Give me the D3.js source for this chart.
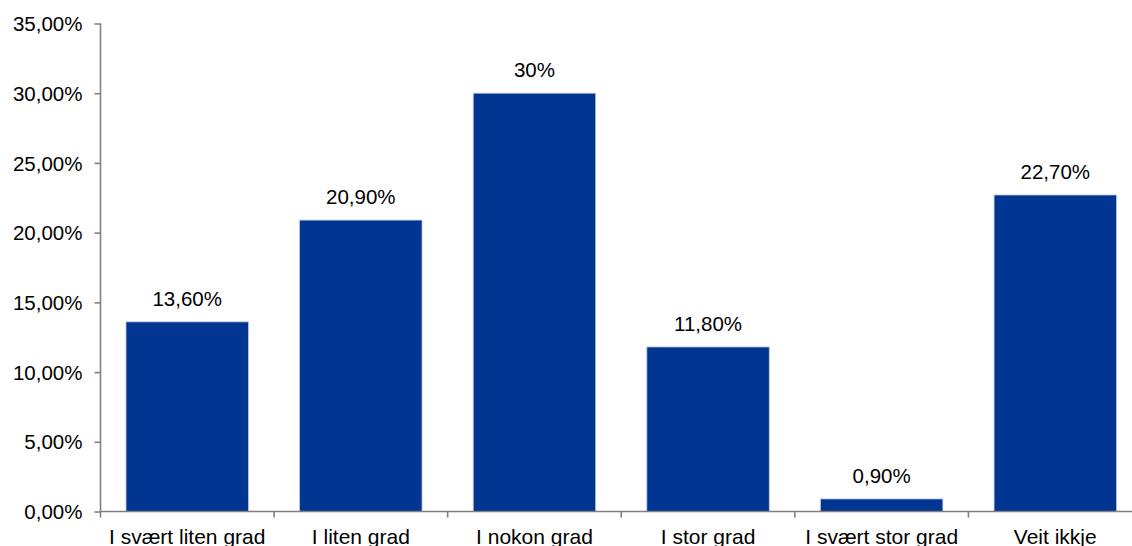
<!DOCTYPE html>
<html>
<head>
<meta charset="UTF-8">
<script src="https://d3js.org/d3.v7.min.js"></script>
<style>
  body { margin: 0; background: #fff; }
  svg text { font-family: "Liberation Sans", Arial, sans-serif; fill: #000; }
</style>
</head>
<body>
<div id="chart"></div>
<script>
// data
var categories = ["I svært liten grad", "I liten grad", "I nokon grad", "I stor grad", "I svært stor grad", "Veit ikkje"];
var values = [13.6, 20.9, 30, 11.8, 0.9, 22.7];
var valueLabels = ["13,60%", "20,90%", "30%", "11,80%", "0,90%", "22,70%"];
var yTicks = [0, 5, 10, 15, 20, 25, 30, 35];

var W = 1132, H = 546;
var mLeft = 100.5, mTop = 23.5, mBottom = 511.5, mRight = 1142;
var fs = "20.5px";

var svg = d3.select("#chart").append("svg")
    .attr("width", W).attr("height", H);

var x = d3.scaleBand()
    .domain(categories)
    .range([mLeft, mRight])
    .paddingInner(0.295)
    .paddingOuter(0.147);

var y = d3.scaleLinear()
    .domain([0, 35])
    .range([mBottom, mTop]);

// bars
svg.selectAll("rect.bar")
    .data(values)
    .enter().append("rect")
    .attr("class", "bar")
    .attr("x", function(d, i) { return x(categories[i]); })
    .attr("y", function(d) { return y(d); })
    .attr("width", x.bandwidth())
    .attr("height", function(d) { return mBottom - y(d); })
    .attr("fill", "#003591")
    .attr("stroke", "#b8c4e0")
    .attr("stroke-width", 0.8);

// value labels
svg.selectAll("text.val")
    .data(values)
    .enter().append("text")
    .attr("class", "val")
    .attr("x", function(d, i) { return x(categories[i]) + x.bandwidth() / 2; })
    .attr("y", function(d) { return y(d) - 16; })
    .attr("text-anchor", "middle")
    .attr("font-size", fs)
    .text(function(d, i) { return valueLabels[i]; });

// y axis
var yAxis = svg.append("g")
    .attr("transform", "translate(" + mLeft + ",0)")
    .call(d3.axisLeft(y).tickValues(yTicks).tickSize(6).tickPadding(12)
        .tickFormat(function(d) { return d3.format(".2f")(d).replace(".", ",") + "%"; }));
yAxis.selectAll("path, line").attr("stroke", "#808080").attr("stroke-width", 1.6);
yAxis.select("path").attr("d", "M0," + mTop + "V" + mBottom);
yAxis.selectAll("text").attr("font-size", fs).attr("dy", "0.35em")
    .style("font-family", "'Liberation Sans', Arial, sans-serif").attr("fill", "#000");

// x axis
var xAxis = svg.append("g")
    .attr("transform", "translate(0," + mBottom + ")")
    .call(d3.axisBottom(x).tickSize(0).tickPadding(18));
xAxis.select("path").attr("stroke", "#808080").attr("stroke-width", 1.6)
    .attr("d", "M" + mLeft + ",0H" + mRight);
xAxis.selectAll("text").attr("font-size", "21px").attr("dy", "0.71em")
    .style("font-family", "'Liberation Sans', Arial, sans-serif").attr("fill", "#000");

// tick marks between categories
var bounds = d3.range(categories.length + 1).map(function(i) { return mLeft + i * (mRight - mLeft) / categories.length; });
xAxis.selectAll("line.sep")
    .data(bounds)
    .enter().append("line")
    .attr("class", "sep")
    .attr("x1", function(d) { return d; })
    .attr("x2", function(d) { return d; })
    .attr("y1", 0).attr("y2", 6)
    .attr("stroke", "#808080").attr("stroke-width", 1.6);
</script>
</body>
</html>
